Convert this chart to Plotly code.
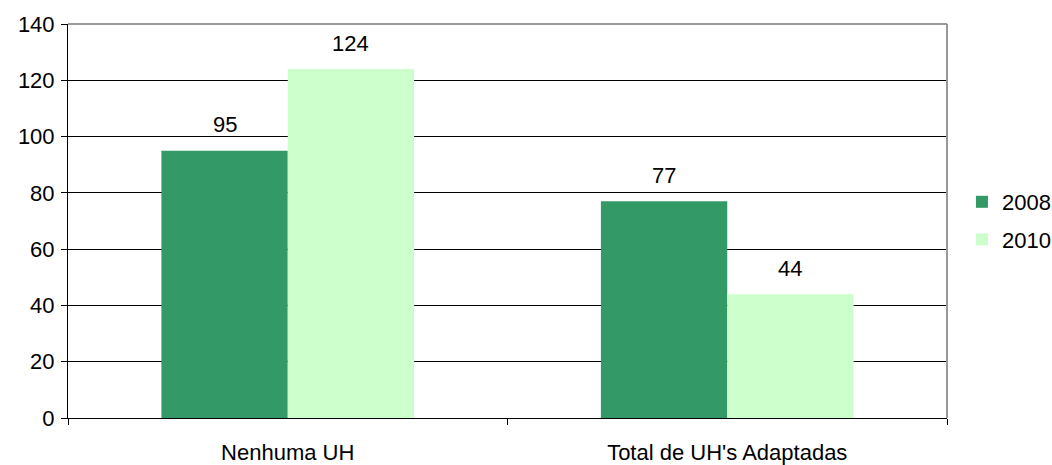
import plotly.graph_objects as go

categories = ["Nenhuma UH", "Total de UH's Adaptadas"]
series_names = ["2008", "2010"]
values_2008 = [95, 77]
values_2010 = [124, 44]
colors = ["#339966", "#CCFFCC"]
y_ticks = [0, 20, 40, 60, 80, 100, 120, 140]

font = dict(family="Liberation Sans, Arial, sans-serif", size=22, color="black")

BARGAP = 0.425
bar_w = (1 - BARGAP) / 2

fig = go.Figure()
annotations = []
all_series = [values_2008, values_2010]
for s, (name, vals, col) in enumerate(zip(series_names, all_series, colors)):
    fig.add_trace(go.Bar(
        x=categories, y=vals, name=name, legendgroup=name,
        marker=dict(color=col, line=dict(width=0)),
    ))
    offset = (s - 0.5) * bar_w
    for i, v in enumerate(vals):
        annotations.append(dict(
            x=i + offset, y=v, xref="x", yref="y", text=str(v), showarrow=False,
            yanchor="middle", yshift=26, font=font,
        ))

fig.update_layout(
    barmode="group", bargap=BARGAP, bargroupgap=0,
    width=1052, height=465,
    margin=dict(l=68, r=105, t=24, b=47, autoexpand=False),
    paper_bgcolor="white", plot_bgcolor="white",
    font=font,
    showlegend=True,
    annotations=annotations,
    legend=dict(x=1.017, y=0.5, yanchor="middle", xanchor="left", traceorder="grouped",
                font=font, itemwidth=30, tracegroupgap=6, bgcolor="rgba(0,0,0,0)"),
    yaxis=dict(range=[0, 140], tickvals=y_ticks, showgrid=True, gridcolor="black", gridwidth=1,
               showline=True, linecolor="black", linewidth=1, ticks="outside", ticklen=6,
               tickcolor="black", zeroline=False, automargin=False, ticklabelstandoff=2),
    xaxis=dict(showline=True, linecolor="black", linewidth=1, ticks="outside", ticklen=6,
               tickcolor="black", tickson="boundaries", showgrid=False, automargin=False,
               ticklabelstandoff=15),
    shapes=[
        dict(type="line", xref="paper", yref="paper", x0=0, x1=1, y0=1, y1=1,
             line=dict(color="#999999", width=2)),
        dict(type="line", xref="paper", yref="paper", x0=1, x1=1, y0=0, y1=1,
             line=dict(color="#999999", width=2)),
    ],
)

fig.write_html("out.html", config={"displayModeBar": False},
               post_script="document.body.style.margin='0px';document.body.style.overflow='hidden';")
